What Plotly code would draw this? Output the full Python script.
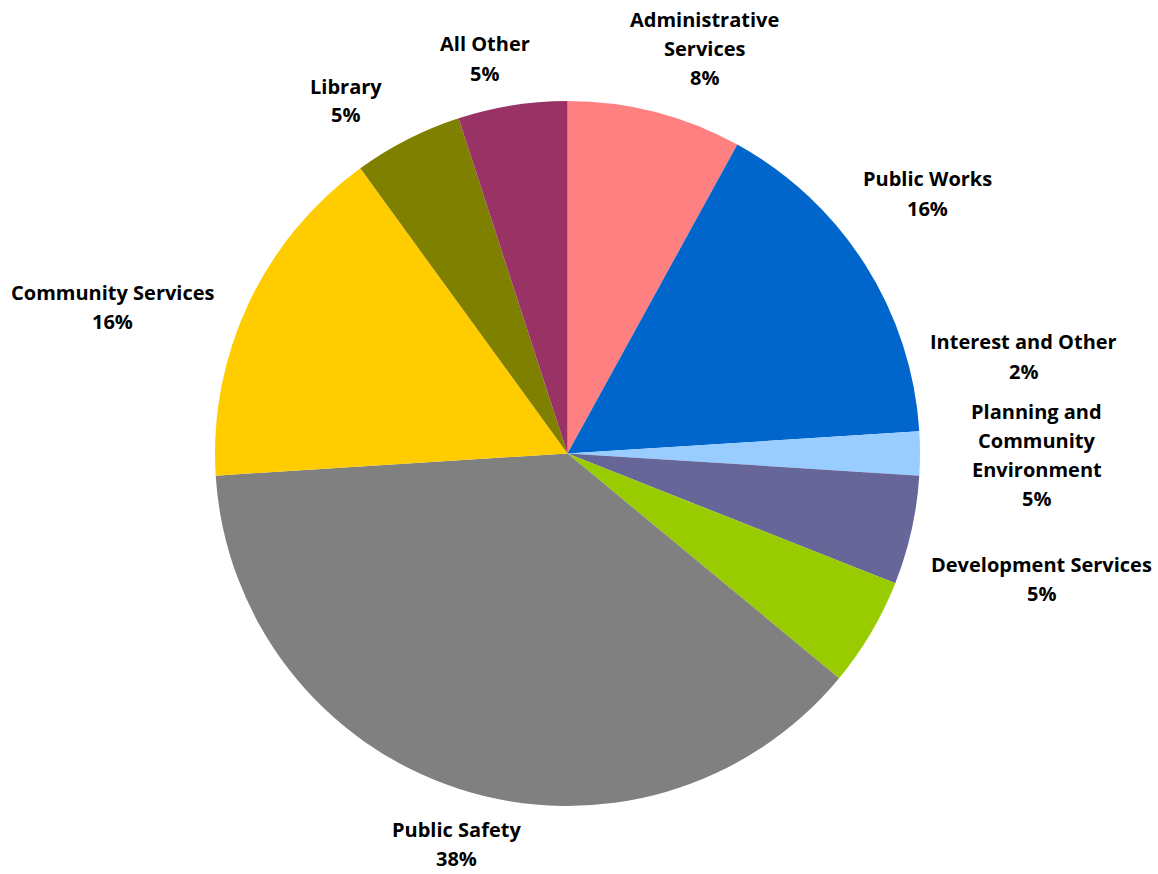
import plotly.graph_objects as go

# Budget share by department (percent), clockwise from 12 o'clock
categories = [
    "Administrative Services",
    "Public Works",
    "Interest and Other",
    "Planning and Community Environment",
    "Development Services",
    "Public Safety",
    "Community Services",
    "Library",
    "All Other",
]
shares = [8, 16, 2, 5, 5, 38, 16, 5, 5]

# Label text broken into lines
label_lines = [
    ["Administrative", "Services"],
    ["Public Works"],
    ["Interest and Other"],
    ["Planning and", "Community", "Environment"],
    ["Development Services"],
    ["Public Safety"],
    ["Community Services"],
    ["Library"],
    ["All Other"],
]

colors = ["#FF8080", "#0066CC", "#99CCFF", "#666699", "#99CC00",
          "#808080", "#FFCC00", "#808000", "#993366"]

# Canvas and pie geometry (pixels)
W, H = 1158, 874
CX, CY, R = 567.5, 453.5, 352.5

# Label block centres, as pixel offsets (right, up) from the pie centre
label_offsets = [
    (137, 405), (360, 260), (456, 97), (469, -1), (474, -125),
    (-111, -390), (-455, 147), (-222, 353), (-83, 395),
]
LINE_H = 29
FONT = dict(family="'Open Sans', sans-serif", size=20, color="#000000")

fig = go.Figure(
    go.Pie(
        labels=categories,
        values=shares,
        sort=False,
        direction="clockwise",
        rotation=0,
        marker=dict(colors=colors, line=dict(width=0)),
        textinfo="none",
        hoverinfo="label+percent",
        showlegend=False,
        domain=dict(x=[(CX - R) / W, (CX + R) / W],
                    y=[1 - (CY + R) / H, 1 - (CY - R) / H]),
    )
)

total = sum(shares)
annotations = []
for lines, val, (dx, dy) in zip(label_lines, shares, label_offsets):
    text_lines = lines + [f"{round(100 * val / total)}%"]
    n = len(text_lines)
    bx, by = CX + dx, CY - dy
    for i, t in enumerate(text_lines):
        py = by + (i - (n - 1) / 2) * LINE_H
        annotations.append(dict(
            x=bx / W, y=1 - py / H, xref="paper", yref="paper",
            text=f"<b>{t}</b>", showarrow=False, borderpad=0,
            xanchor="center", yanchor="middle", font=FONT,
        ))

fig.update_layout(
    width=W, height=H,
    margin=dict(l=0, r=0, t=0, b=0),
    paper_bgcolor="#FFFFFF",
    plot_bgcolor="#FFFFFF",
    annotations=annotations,
)

fig.write_html("out.html")
